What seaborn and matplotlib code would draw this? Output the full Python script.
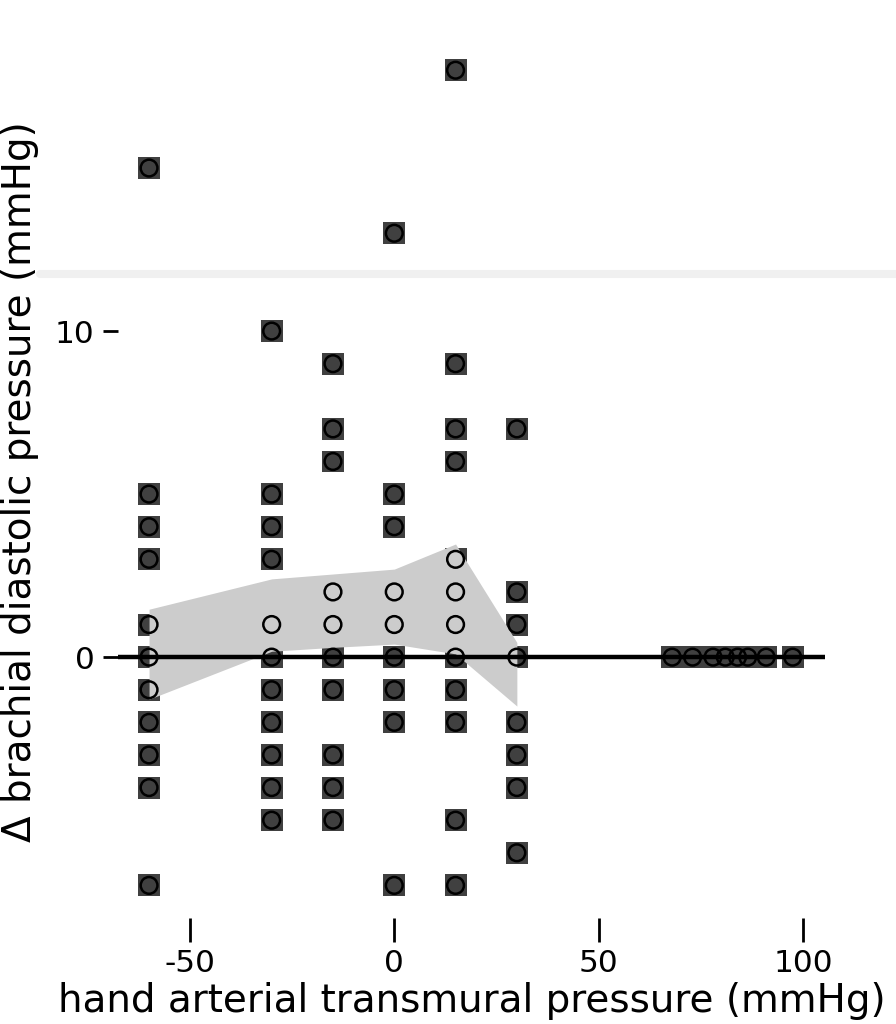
import matplotlib
matplotlib.use("Agg")
import matplotlib.pyplot as plt
import seaborn as sns
import pandas as pd

sns.set_theme(style="white")
plt.rcParams["font.family"] = ["DejaVu Sans"]

# ---- data ----
x_levels = [-60, -30, -15, 0, 15, 30]
y_at_m60 = [15, 5, 4, 3, 1, 0, -1, -2, -3, -4, -7]
y_at_m30 = [10, 5, 4, 3, 1, 0, -1, -2, -3, -4, -5]
y_at_m15 = [9, 7, 6, 2, 1, 0, -1, -3, -4, -5]
y_at_0 = [13, 5, 4, 2, 1, 0, -1, -2, -7]
y_at_15 = [18, 9, 7, 6, 3, 2, 1, 0, -1, -2, -5, -7]
y_at_30 = [7, 2, 1, 0, -2, -3, -4, -6]
x_right = [68, 73, 78, 81, 84, 86.5, 91, 97.5]
y_right = [0, 0, 0, 0, 0, 0, 0, 0]

band_x = [-60, -30, -15, 0, 15, 30]
band_upper = [1.47, 2.4, 2.55, 2.7, 3.47, 0.45]
band_lower = [-1.29, 0.18, 0.3, 0.4, 0.1, -1.5]

ref_line_y = 0
grey_line_y = 11.75

x_ticks = [-50, 0, 50, 100]
y_ticks = [0, 10]
x_label = "hand arterial transmural pressure (mmHg)"
y_label = "\u0394 brachial diastolic pressure (mmHg)"

# ---- table ----
xs, ys = [], []
for xv, col in zip(x_levels, [y_at_m60, y_at_m30, y_at_m15, y_at_0, y_at_15, y_at_30]):
    xs += [xv] * len(col)
    ys += col
xs += x_right
ys += y_right
df = pd.DataFrame({"x": xs, "y": ys})

fig = plt.figure(figsize=(8.96, 10.24), dpi=100)
ax = fig.add_axes([118 / 896, 1 - 918 / 1024, 707 / 896, 913 / 1024])

# dark marker bodies
sns.scatterplot(data=df, x="x", y="y", ax=ax, s=250, marker="s", color="#404040",
                edgecolor="none", linewidth=0, zorder=1, legend=False)
# confidence band
ax.fill_between(band_x, band_lower, band_upper, color="#cccccc", lw=0, zorder=2)
# reference line
ax.axhline(ref_line_y, color="black", lw=3.2, zorder=3)
# light grey line
ax.axhline(grey_line_y, xmin=-0.11, xmax=1.11, color="#f0f0f0", lw=5.8, zorder=0, clip_on=False)
# marker outlines
sns.scatterplot(data=df, x="x", y="y", ax=ax, s=145, marker="o", facecolor="none",
                edgecolor="black", linewidth=1.8, zorder=4, legend=False)

ax.set_xlim(-67.6, 105.4)
ax.set_ylim(-8, 20)
ax.set_xticks(x_ticks)
ax.set_yticks(y_ticks)
ax.set_xticklabels([str(v) for v in x_ticks])
for s in ax.spines.values():
    s.set_visible(False)
ax.tick_params(axis="x", bottom=True, length=17, width=2, color="black",
               labelcolor="black", labelsize=22.5, pad=5)
ax.tick_params(axis="y", left=True, length=11, width=2, color="black",
               labelcolor="black", labelsize=22.5, pad=6)
ax.set_xlabel(x_label, fontsize=28, color="black", labelpad=3)
ax.set_ylabel(y_label, fontsize=28, color="black")
ax.yaxis.set_label_coords(-0.112, 0.478)

fig.savefig("out.png", dpi=100)
